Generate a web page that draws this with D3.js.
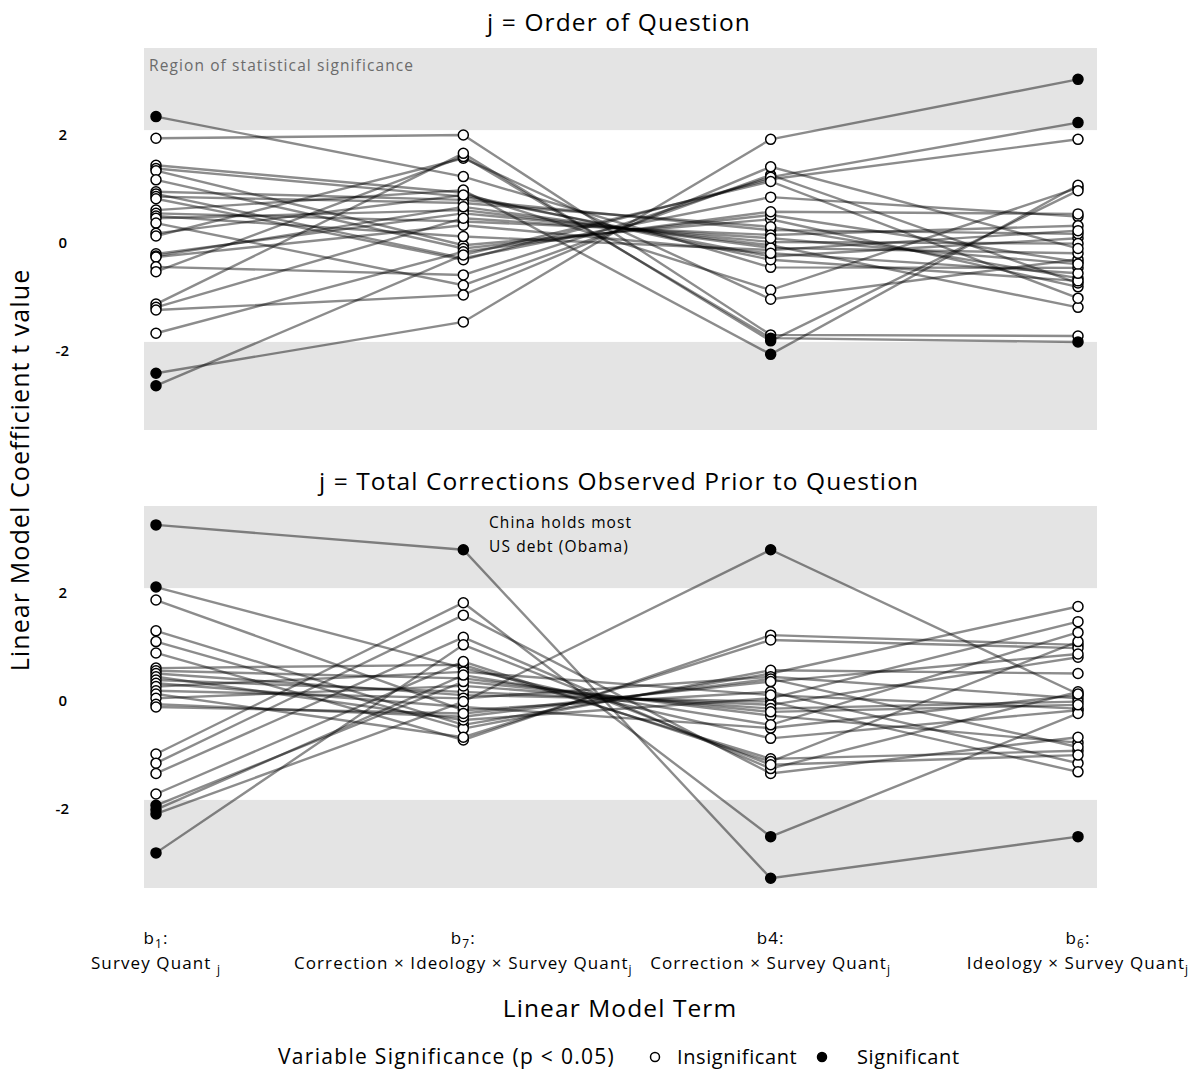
<!DOCTYPE html>
<html>
<head>
<meta charset="utf-8">
<script src="https://cdn.jsdelivr.net/npm/d3@7/dist/d3.min.js"></script>
<style>
  body { margin: 0; background: #fff; }
  svg { font-family: "Open Sans", "Lato", sans-serif; letter-spacing: 1.1px; }
  .tick-label { font-size: 15px; font-weight: 600; letter-spacing: 0; }
</style>
</head>
<body>
<div id="chart"></div>
<script>
// model terms (x categories)
const terms = ["b1", "b7", "b4", "b6"];

// panel 1: j = Order of Question (t values per question, same index = same line)
const orderB1 = [2.21, 1.81, 1.31, 1.25, 1.21, 1.04, 0.82, 0.78, 0.73, 0.69, 0.48, 0.42, 0.37, 0.33, 0.24, 0.05, 0.00, -0.33, -0.37, -0.39, -0.57, -0.66, -1.26, -1.32, -1.37, -1.80, -2.54, -2.77];
const orderB7 = [1.10, 1.87, 0.80, 0.73, -0.17, -0.23, 0.67, -0.41, 0.61, -0.44, 0.85, 0.27, -0.01, 0.48, -0.91, 0.76, 1.44, 0.42, 0.54, 0.20, -0.72, 1.47, 1.53, 0.33, -1.09, -0.29, -1.59, -0.35];
const orderB4 = [-0.58, -1.83, -1.00, -0.38, 0.31, 0.39, 0.11, 0.72, 0.17, 1.05, -2.19, 0.02, -0.26, -0.17, 1.13, -0.44, -1.17, -0.11, -0.22, -0.32, 1.09, -1.89, -1.94, -0.04, 1.28, 0.45, 1.79, 1.01];
const orderB6 = [-0.59, -1.85, 0.89, -0.04, -0.94, -0.48, 0.04, 0.36, -0.78, 1.79, 0.94, 0.19, 0.10, -1.32, -0.87, -0.83, -0.43, -0.14, -0.32, -0.69, 2.10, -1.96, 0.84, -0.52, -0.23, 0.41, 2.90, -1.15];
// [question index, term index] of significant coefficients
const orderSig = [[0, 0], [26, 0], [27, 0], [10, 2], [21, 2], [22, 2], [26, 3], [20, 3], [21, 3]];

// panel 2: j = Total Corrections Observed Prior to Question
const corrB1 = [3.13, 1.98, 1.74, 1.17, 0.97, 0.76, 0.48, 0.43, 0.38, 0.32, 0.26, 0.20, 0.14, 0.06, 0.00, -0.08, -0.19, -0.24, -1.11, -1.28, -1.47, -1.85, -2.06, -2.14, -2.22, -2.94];
const corrB7 = [2.67, 0.48, -0.30, -0.57, -0.64, -0.85, 0.54, 0.29, -0.02, -0.48, 0.04, -0.24, 0.41, -0.08, -0.80, 0.15, -0.42, -0.36, 1.69, 1.46, 1.05, 0.60, 0.23, 0.35, -0.14, 0.91];
const corrB4 = [-3.41, -0.82, 0.04, 0.38, 0.44, 1.09, -1.20, -0.40, -0.14, -0.08, -0.20, -0.63, -0.02, 0.32, 1.00, -0.27, 0.28, 0.23, -2.64, -1.47, -1.38, -1.25, -0.33, -0.57, 2.67, -1.31];
const corrB6 = [-2.64, -0.30, -1.28, 1.62, 0.38, 0.91, -1.05, -0.90, -1.44, 1.34, 0.68, -0.02, -0.27, -0.08, 0.85, -0.14, -0.98, 0.74, -0.36, -0.80, 0.04, 0.97, -0.20, 1.14, 0.00, -1.13];
const corrSig = [[0, 0], [1, 0], [22, 0], [23, 0], [24, 0], [25, 0], [0, 1], [0, 2], [18, 2], [24, 2], [0, 3]];

const yTicks = [-2, 0, 2];
const sigLimit = 1.96;
const yDomain = [-3.59, 3.48];

const width = 1203, height = 1074;
const svg = d3.select("#chart").append("svg")
    .attr("width", width)
    .attr("height", height);

const panels = [
    {title: "j = Order of Question", titleY: 31, top: 48, bottom: 430,
        cols: [orderB1, orderB7, orderB4, orderB6], sig: orderSig},
    {title: "j = Total Corrections Observed Prior to Question", titleY: 490, top: 506, bottom: 888,
        cols: [corrB1, corrB7, corrB4, corrB6], sig: corrSig}
];

const x = d3.scalePoint().domain(terms).range([156, 1078]);
const panelLeft = 144, panelRight = 1097;

const line = d3.line();

panels.forEach(function(p, pi) {
    let y = d3.scaleLinear().domain(yDomain).range([p.bottom, p.top]);
    let g = svg.append("g").attr("class", "panel");

    // shaded regions outside +-1.96
    g.append("rect")
        .attr("x", panelLeft).attr("width", panelRight - panelLeft)
        .attr("y", y(yDomain[1])).attr("height", y(sigLimit) - y(yDomain[1]))
        .attr("fill", "#e4e4e4");
    g.append("rect")
        .attr("x", panelLeft).attr("width", panelRight - panelLeft)
        .attr("y", y(-sigLimit)).attr("height", y(yDomain[0]) - y(-sigLimit))
        .attr("fill", "#e4e4e4");

    // y tick labels
    g.selectAll(".tick-label")
        .data(yTicks).enter()
        .append("text")
        .attr("class", "tick-label")
        .attr("x", d => d < 0 ? 69 : 67)
        .attr("y", d => y(d) + 12)
        .attr("text-anchor", "end")
        .text(d => d < 0 ? "-" + Math.abs(d) : d);

    // title
    svg.append("text")
        .attr("x", 619).attr("y", p.titleY)
        .attr("text-anchor", "middle")
        .style("font-size", "24.5px")
        .text(p.title);

    let n = p.cols[0].length;
    let series = d3.range(n).map(i => terms.map((t, j) => ({term: t, j: j, i: i, v: p.cols[j][i]})));
    let sigSet = new Set(p.sig.map(s => s[0] + "_" + s[1]));

    g.append("g").selectAll("path")
        .data(series).enter()
        .append("path")
        .attr("d", d => line(d.map(pt => [x(pt.term), y(pt.v)])))
        .attr("fill", "none")
        .attr("stroke", "#000")
        .attr("stroke-opacity", 0.45)
        .attr("stroke-width", 2.4);

    let points = series.flat();
    g.append("g").selectAll("circle")
        .data(points).enter()
        .append("circle")
        .attr("cx", d => x(d.term))
        .attr("cy", d => y(d.v))
        .attr("r", 5)
        .attr("fill", d => sigSet.has(d.i + "_" + d.j) ? "#000" : "#fff")
        .attr("stroke", "#000")
        .attr("stroke-width", 1.5);
});

// annotations
svg.append("text")
    .attr("x", 149).attr("y", 71)
    .style("font-size", "15.5px")
    .attr("fill", "#6b6b6b")
    .text("Region of statistical significance");

svg.append("text")
    .attr("x", 489).attr("y", 528)
    .style("font-size", "15.5px")
    .selectAll("tspan")
    .data(["China holds most", "US debt (Obama)"]).enter()
    .append("tspan")
    .attr("x", 489)
    .attr("dy", (d, i) => i ? 24 : 0)
    .text(d => d);

// x axis labels (two lines each)
const termLabels = [
    {b: "b", sub: "1", tail: "Survey Quant ", tailSub: "j"},
    {b: "b", sub: "7", tail: "Correction × Ideology × Survey Quant", tailSub: "j"},
    {b: "b4", sub: "", tail: "Correction × Survey Quant", tailSub: "j"},
    {b: "b", sub: "6", tail: "Ideology × Survey Quant", tailSub: "j"}
];

termLabels.forEach(function(l, i) {
    let cx = x(terms[i]);
    let t1 = svg.append("text")
        .attr("x", cx).attr("y", 944)
        .attr("text-anchor", "middle")
        .style("font-size", "17px");
    t1.append("tspan").text(l.b);
    if (l.sub) {
        t1.append("tspan").attr("dy", 4).style("font-size", "12px").text(l.sub);
        t1.append("tspan").attr("dy", -4).text(":");
    } else {
        t1.append("tspan").text(":");
    }
    let t2 = svg.append("text")
        .attr("x", cx).attr("y", 969)
        .attr("text-anchor", "middle")
        .style("font-size", "17px");
    t2.append("tspan").text(l.tail);
    t2.append("tspan").attr("dy", 5).style("font-size", "12px").text(l.tailSub);
});

// axis titles
svg.append("text")
    .attr("x", 620).attr("y", 1017)
    .attr("text-anchor", "middle")
    .style("font-size", "24.5px")
    .text("Linear Model Term");

svg.append("text")
    .attr("transform", "translate(29,470) rotate(-90)")
    .attr("text-anchor", "middle")
    .style("font-size", "25px")
    .text("Linear Model Coefficient t value");

// legend
let legend = svg.append("g");
legend.append("text")
    .attr("x", 278).attr("y", 1064)
    .style("font-size", "21px")
    .style("letter-spacing", "1.3px")
    .text("Variable Significance (p < 0.05)");
legend.append("circle").attr("cx", 655).attr("cy", 1057).attr("r", 4.5)
    .attr("fill", "#fff").attr("stroke", "#000").attr("stroke-width", 1.5);
legend.append("text").attr("x", 677).attr("y", 1064).style("font-size", "20px").style("letter-spacing", "0.6px").text("Insignificant");
legend.append("circle").attr("cx", 822).attr("cy", 1057).attr("r", 4.5)
    .attr("fill", "#000").attr("stroke", "#000").attr("stroke-width", 1.5);
legend.append("text").attr("x", 857).attr("y", 1064).style("font-size", "20px").style("letter-spacing", "0.6px").text("Significant");
</script>
</body>
</html>
